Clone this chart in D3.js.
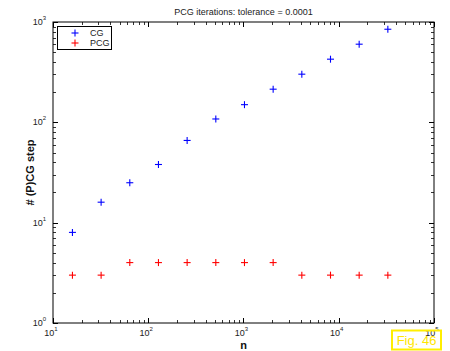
<!DOCTYPE html>
<html><head><meta charset="utf-8">
<script src="https://cdn.jsdelivr.net/npm/d3@7"></script>
<style>body{margin:0;background:#fff}</style>
</head><body>
<script>
const nValues = [16, 32, 64, 128, 256, 512, 1024, 2048, 4096, 8192, 16384, 32768];
const cgSteps = [8, 16, 25, 38, 66, 108, 150, 214, 302, 426, 601, 847];
const pcgSteps = [3, 3, 4, 4, 4, 4, 4, 4, 3, 3, 3, 3];
const seriesNames = ["CG", "PCG"];
const seriesColors = ["#0000ff", "#ff0000"];
const xDecades = [1, 2, 3, 4, 5];
const yDecades = [0, 1, 2, 3];

const W = 450, H = 351;
const L = 53, R = 434, T = 22, B = 323;
const font = "Liberation Sans, Arial, Helvetica, sans-serif";

const svg = d3.select("body").append("svg").attr("width", W).attr("height", H)
  .style("font-family", font);

const x = d3.scaleLog().domain([10, 1e5]).range([L, R]);
const y = d3.scaleLog().domain([1, 1000]).range([B, T]);

const minorX = [], minorY = [];
for (let d = 1; d < 5; d++) for (let k = 2; k <= 9; k++) minorX.push(k * Math.pow(10, d));
for (let d = 0; d < 3; d++) for (let k = 2; k <= 9; k++) minorY.push(k * Math.pow(10, d));

const g = svg.append("g").attr("stroke", "#000").attr("fill", "none");
g.append("rect").attr("x", L).attr("y", T).attr("width", R - L).attr("height", B - T).attr("stroke-width", 1);

const maj = 5, mn = 3;
xDecades.forEach(d => {
  const px = Math.round(x(Math.pow(10, d))) + 0.5;
  g.append("line").attr("x1", px).attr("x2", px).attr("y1", B).attr("y2", B - maj);
  g.append("line").attr("x1", px).attr("x2", px).attr("y1", T).attr("y2", T + maj);
});
minorX.forEach(v => {
  const px = Math.round(x(v)) + 0.5;
  g.append("line").attr("x1", px).attr("x2", px).attr("y1", B).attr("y2", B - mn).attr("stroke-width", 0.8);
  g.append("line").attr("x1", px).attr("x2", px).attr("y1", T).attr("y2", T + mn).attr("stroke-width", 0.8);
});
yDecades.forEach(d => {
  const py = Math.round(y(Math.pow(10, d))) + 0.5;
  g.append("line").attr("y1", py).attr("y2", py).attr("x1", L).attr("x2", L + maj);
  g.append("line").attr("y1", py).attr("y2", py).attr("x1", R).attr("x2", R - maj);
});
minorY.forEach(v => {
  const py = Math.round(y(v)) + 0.5;
  g.append("line").attr("y1", py).attr("y2", py).attr("x1", L).attr("x2", L + mn).attr("stroke-width", 0.8);
  g.append("line").attr("y1", py).attr("y2", py).attr("x1", R).attr("x2", R - mn).attr("stroke-width", 0.8);
});

xDecades.forEach(d => {
  const t = svg.append("text").attr("x", x(Math.pow(10, d)) - 2).attr("y", 336)
    .attr("text-anchor", "middle").attr("font-size", 9).attr("fill", "#222");
  t.append("tspan").text("10");
  t.append("tspan").attr("dy", -5).attr("font-size", 6).text(d);
});
yDecades.forEach(d => {
  const t = svg.append("text").attr("x", 46).attr("y", y(Math.pow(10, d)) + 3)
    .attr("text-anchor", "end").attr("font-size", 9).attr("fill", "#222");
  t.append("tspan").text("10");
  t.append("tspan").attr("dy", -5).attr("font-size", 6).text(d);
});

svg.append("text").attr("x", (L + R) / 2).attr("y", 15).attr("text-anchor", "middle")
  .attr("font-size", 9).attr("fill", "#222").text("PCG iterations: tolerance = 0.0001");
svg.append("text").attr("x", (L + R) / 2).attr("y", 349).attr("text-anchor", "middle")
  .attr("font-size", 11).attr("font-weight", "bold").attr("fill", "#111").text("n");
svg.append("text").attr("transform", `translate(34,${(T + B) / 2}) rotate(-90)`).attr("text-anchor", "middle")
  .attr("font-size", 11).attr("font-weight", "bold").attr("fill", "#111").text("# (P)CG step");

function plus(sel, color) {
  sel.each(function() {
    const gg = d3.select(this);
    gg.append("line").attr("x1", -3.5).attr("x2", 3.5).attr("y1", 0).attr("y2", 0);
    gg.append("line").attr("y1", -3.5).attr("y2", 3.5).attr("x1", 0).attr("x2", 0);
  }).attr("stroke", color).attr("stroke-width", 1.1);
}
[cgSteps, pcgSteps].forEach((vals, i) => {
  svg.append("g").selectAll("g").data(vals).join("g")
    .attr("transform", (d, j) => `translate(${x(nValues[j])},${y(d)})`)
    .call(plus, seriesColors[i]);
});

svg.append("rect").attr("x", 57.5).attr("y", 26.5).attr("width", 54).attr("height", 23)
  .attr("fill", "#fff").attr("stroke", "#000").attr("stroke-width", 1);
seriesNames.forEach((name, i) => {
  const ly = 33 + i * 10;
  svg.append("g").datum(0).attr("transform", `translate(75,${ly})`).call(plus, seriesColors[i]);
  svg.append("text").attr("x", 90).attr("y", ly + 3).attr("font-size", 9).attr("fill", "#222").text(name);
});

svg.append("rect").attr("x", 392).attr("y", 330.5).attr("width", 49).attr("height", 19)
  .attr("fill", "none").attr("stroke", "#ffee00").attr("stroke-width", 2);
svg.append("text").attr("x", 416.5).attr("y", 345).attr("text-anchor", "middle")
  .attr("font-size", 13).attr("fill", "#ffe600").text("Fig. 46");
</script>
</body></html>
